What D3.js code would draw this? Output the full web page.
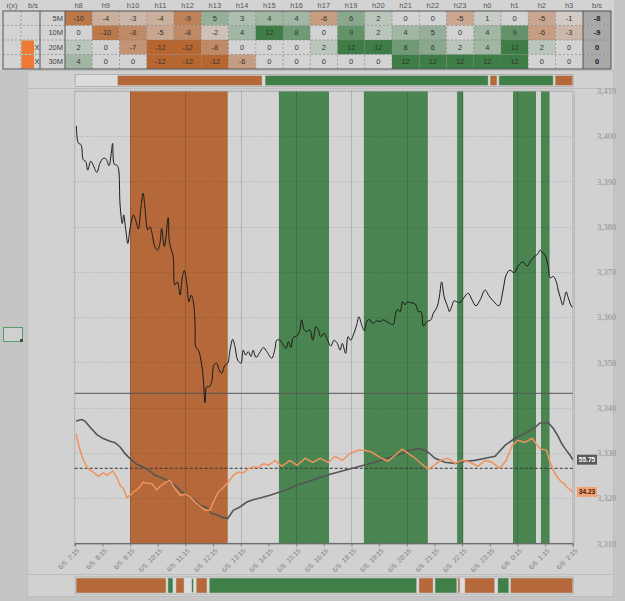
<!DOCTYPE html>
<html><head><meta charset="utf-8">
<script src="https://cdn.jsdelivr.net/npm/d3@7"></script>
<style>body{margin:0;background:#c5c5c5;} svg{display:block;font-family:"Liberation Sans",Arial,sans-serif;}</style>
</head><body><svg id="c" width="625" height="601"></svg>
<script>
// ---------- DATA ----------
const hours = ["h8","h9","h10","h11","h12","h13","h14","h15","h16","h17","h19","h20","h21","h22","h23","h0","h1","h2","h3"];
const rowLabels = ["5M","10M","20M","30M"];
const row5M  = [-10,-4,-3,-4,-9,5,3,4,4,-6,6,2,0,0,-5,1,0,-5,-1];
const row10M = [0,-10,-8,-5,-8,-2,4,12,8,0,9,2,4,5,0,4,9,-6,-3];
const row20M = [2,0,-7,-12,-12,-8,0,0,0,2,12,12,8,6,2,4,12,2,0];
const row30M = [4,0,0,-12,-12,-12,-6,0,0,0,0,0,12,12,12,12,12,0,0];
const rowTotals = [-8,-9,0,0];
const rowFlags = ["","","X","X"];

const xTickLabels = ["6/5  7:15","6/5  8:15","6/5  9:15","6/5  10:15","6/5  11:15","6/5  12:15","6/5  13:15","6/5  14:15","6/5  15:15","6/5  16:15","6/5  18:15","6/5  19:15","6/5  20:15","6/5  21:15","6/5  22:15","6/5  23:15","6/6  0:15","6/6  1:15","6/6  2:15"];
const priceTicks = [3310,3320,3330,3340,3350,3360,3370,3380,3390,3400,3410];

// bands in trading-hour units from 7:15
const bandsOrange = [[2.0,5.53]];
const bandsGreen = [[7.38,9.19],[10.45,12.76],[13.82,14.04],[15.84,16.67],[16.85,17.16]];
const topStrip = [["o",1.55,6.77],["g",6.88,14.94],["o",15.01,15.26],["g",15.33,17.29],["o",17.36,18]];
const bottomStrip = [["o",0.05,3.30],["g",3.37,3.55],["o",3.66,3.95],["g",4.23,4.29],["o",4.39,4.78],["g",4.86,12.36],["o",12.44,12.95],["g",13.02,13.81],["o",13.85,13.92],["o",14.10,15.18],["g",15.29,15.69],["o",15.75,18]];

const priceSeries = [[0.06,3402.3],[0.13,3398.5],[0.23,3398.1],[0.31,3394.8],[0.40,3394.4],[0.47,3392.5],[0.58,3394.5],[0.67,3393.6],[0.80,3392.0],[0.91,3394.0],[1.03,3395.1],[1.13,3395.0],[1.24,3393.5],[1.32,3396.2],[1.37,3398.4],[1.43,3393.8],[1.52,3393.6],[1.58,3392.9],[1.64,3384.8],[1.72,3380.7],[1.77,3382.6],[1.84,3379.6],[1.92,3376.3],[2.00,3379.6],[2.12,3382.6],[2.20,3381.5],[2.30,3379.5],[2.39,3384.1],[2.47,3387.4],[2.54,3384.1],[2.64,3379.3],[2.72,3380.0],[2.82,3377.8],[2.87,3376.0],[2.99,3374.8],[3.08,3376.3],[3.14,3379.6],[3.24,3375.6],[3.38,3382.0],[3.42,3376.7],[3.51,3374.5],[3.56,3373.4],[3.62,3367.1],[3.71,3367.8],[3.81,3364.9],[3.89,3368.9],[3.96,3370.3],[4.05,3367.5],[4.13,3363.4],[4.21,3364.9],[4.29,3363.4],[4.35,3358.3],[4.38,3353.3],[4.47,3352.7],[4.59,3349.4],[4.65,3346.1],[4.71,3341.1],[4.77,3344.6],[4.86,3344.6],[4.95,3345.7],[5.03,3349.4],[5.13,3349.8],[5.22,3348.3],[5.31,3347.6],[5.43,3349.4],[5.53,3349.8],[5.61,3352.7],[5.71,3355.1],[5.79,3353.5],[5.89,3350.5],[6.01,3349.8],[6.09,3352.7],[6.18,3351.6],[6.27,3352.4],[6.37,3351.3],[6.45,3352.7],[6.55,3351.1],[6.67,3352.0],[6.82,3353.3],[6.94,3352.4],[7.12,3350.9],[7.24,3353.1],[7.30,3354.9],[7.42,3354.9],[7.54,3353.8],[7.64,3353.1],[7.72,3354.6],[7.81,3353.3],[7.90,3355.5],[8.02,3355.8],[8.12,3356.8],[8.20,3359.4],[8.29,3357.2],[8.38,3356.8],[8.50,3357.2],[8.60,3354.9],[8.72,3357.9],[8.80,3357.2],[8.89,3355.7],[9.01,3356.4],[9.11,3355.3],[9.26,3353.6],[9.37,3354.9],[9.49,3354.2],[9.59,3352.7],[9.67,3354.2],[9.79,3352.0],[9.88,3355.7],[9.97,3354.9],[10.07,3356.1],[10.19,3358.3],[10.27,3360.1],[10.37,3358.3],[10.47,3357.0],[10.55,3359.0],[10.65,3359.5],[10.77,3358.6],[10.91,3359.2],[11.03,3359.0],[11.15,3359.4],[11.28,3359.0],[11.42,3358.5],[11.51,3358.3],[11.60,3360.9],[11.67,3361.7],[11.76,3361.2],[11.85,3363.4],[11.94,3362.7],[12.02,3363.4],[12.12,3363.2],[12.24,3363.1],[12.33,3362.7],[12.42,3361.2],[12.52,3361.2],[12.60,3358.0],[12.72,3359.0],[12.87,3359.4],[12.96,3360.9],[13.08,3362.0],[13.17,3364.2],[13.26,3367.8],[13.35,3364.5],[13.42,3363.2],[13.48,3362.3],[13.54,3361.2],[13.62,3362.3],[13.71,3363.6],[13.81,3363.4],[13.92,3363.2],[14.11,3364.7],[14.22,3365.3],[14.36,3363.8],[14.50,3362.5],[14.65,3363.8],[14.83,3366.0],[14.97,3364.7],[15.15,3363.4],[15.33,3362.5],[15.48,3366.0],[15.59,3369.3],[15.73,3370.4],[15.88,3369.8],[16.02,3371.3],[16.20,3372.2],[16.35,3371.3],[16.49,3372.6],[16.64,3373.5],[16.74,3374.0],[16.81,3374.8],[16.92,3374.2],[17.00,3373.7],[17.12,3370.9],[17.18,3368.7],[17.30,3369.0],[17.42,3367.5],[17.47,3366.0],[17.54,3364.5],[17.64,3362.7],[17.70,3364.2],[17.76,3365.6],[17.84,3364.2],[17.96,3362.3],[18.0,3362.2]];

const graySeries = [[0.05,81.5],[0.25,82.5],[0.37,81.5],[0.55,77.5],[0.80,72.5],[1.03,69.8],[1.28,68.0],[1.46,67.1],[1.64,64.2],[1.82,59.8],[2.00,56.5],[2.24,52.7],[2.48,50.9],[2.72,48.2],[2.90,45.3],[3.08,44.2],[3.26,42.7],[3.44,40.9],[3.62,38.7],[3.81,35.3],[3.99,32.5],[4.17,30.9],[4.35,28.7],[4.53,25.3],[4.77,23.8],[4.95,19.8],[5.13,19.1],[5.37,17.1],[5.53,16.5],[5.73,22.0],[5.97,24.2],[6.22,27.5],[6.45,29.1],[6.76,30.5],[7.06,32.0],[7.60,35.3],[8.14,39.3],[8.69,42.7],[9.23,46.0],[9.77,48.7],[10.31,51.3],[10.85,54.0],[11.40,57.3],[11.76,59.3],[12.12,62.0],[12.48,63.3],[12.77,60.7],[13.02,56.7],[13.38,54.0],[13.74,53.3],[14.11,54.7],[14.47,55.3],[14.83,56.7],[15.19,58.0],[15.55,65.3],[15.91,70.0],[16.27,73.3],[16.64,77.3],[16.81,80.2],[17.12,80.2],[17.30,76.5],[17.48,70.9],[17.60,66.5],[17.72,63.1],[17.90,58.7],[18.0,55.75]];

const orangeSeries = [[0.05,73.1],[0.13,66.5],[0.25,58.7],[0.37,53.1],[0.49,49.8],[0.67,47.5],[0.85,44.7],[1.03,46.9],[1.18,45.3],[1.37,48.2],[1.52,44.2],[1.64,38.7],[1.76,36.5],[1.88,30.5],[2.00,32.0],[2.12,34.2],[2.30,36.5],[2.48,40.9],[2.62,39.8],[2.78,39.8],[2.96,35.8],[3.14,38.7],[3.32,40.9],[3.44,42.0],[3.62,36.5],[3.81,32.0],[3.99,32.7],[4.17,30.9],[4.35,27.5],[4.53,24.7],[4.71,22.0],[4.89,22.0],[5.01,27.5],[5.19,34.2],[5.37,37.1],[5.55,40.9],[5.73,45.3],[5.91,47.5],[6.09,46.9],[6.27,49.8],[6.45,50.9],[6.64,50.5],[6.82,53.1],[7.00,52.0],[7.24,55.3],[7.49,51.3],[7.78,55.3],[8.04,52.0],[8.33,56.7],[8.61,54.0],[8.87,56.7],[9.16,54.0],[9.41,58.0],[9.67,55.3],[9.95,60.0],[10.24,62.0],[10.49,62.0],[10.74,60.7],[11.03,57.3],[11.32,54.7],[11.58,58.7],[11.83,62.7],[12.05,60.0],[12.30,56.7],[12.55,52.7],[12.77,49.3],[12.99,52.0],[13.20,55.3],[13.49,56.7],[13.74,53.3],[14.00,55.3],[14.29,54.0],[14.57,51.3],[14.83,55.3],[15.08,54.0],[15.37,50.0],[15.59,55.3],[15.81,65.3],[16.02,68.7],[16.27,67.3],[16.53,70.0],[16.81,63.1],[17.05,62.0],[17.15,55.3],[17.27,49.8],[17.36,46.5],[17.48,43.1],[17.60,40.9],[17.72,39.3],[17.78,37.5],[17.90,35.8],[18.0,34.23]];

// ---------- DRAW ----------
const svg = d3.select("#c");
const ORANGE = "#b5693a", GREEN = "#4a8450", SORANGE = "#b5683a", SGREEN = "#417f49";

svg.append("rect").attr("width",625).attr("height",601).attr("fill","#c5c5c5");
svg.append("rect").attr("x",0).attr("y",0).attr("width",614).attr("height",70).attr("fill","#d3d3d3");

// ----- table -----
const colX = d3.scaleBand().domain(hours).range([65, 65 + 19*27.25]);
const rowY = d3.scaleBand().domain(rowLabels).range([11, 69]);
const tableRows = [row5M,row10M,row20M,row30M];
const cellColor = v => v === 0 ? "#d3d3d3" :
  d3.interpolateRgb("#d3d3d3", v < 0 ? "#b8662f" : "#3f7d47")(Math.min(1, Math.abs(v)/12));
const tbl = svg.append("g");
tableRows.forEach((row, ri) => {
  const y0 = rowY(rowLabels[ri]), h = rowY.bandwidth();
  row.forEach((v, ci) => {
    tbl.append("rect").attr("x", colX(hours[ci])).attr("y", y0).attr("width", colX.bandwidth()).attr("height", h).attr("fill", cellColor(v));
    tbl.append("text").attr("x", colX(hours[ci]) + colX.bandwidth()/2).attr("y", y0 + h/2 + 2.6)
      .attr("text-anchor","middle").attr("font-size",7.5).attr("fill","#333").text(v);
  });
  tbl.append("rect").attr("x", 583).attr("y", y0).attr("width", 28).attr("height", h).attr("fill", "#a9a9a9");
  tbl.append("text").attr("x", 597).attr("y", y0 + h/2 + 2.6).attr("text-anchor","middle").attr("font-size",7.5)
    .attr("font-weight","bold").attr("fill","#222").text(rowTotals[ri]);
  tbl.append("text").attr("x", 63).attr("y", y0 + h/2 + 2.6).attr("text-anchor","end").attr("font-size",7.5).attr("fill","#444").text(rowLabels[ri]);
  if (rowFlags[ri]) {
    tbl.append("rect").attr("x", 21.5).attr("y", y0+0.5).attr("width", 12.5).attr("height", h-1).attr("fill", "#ef7a35");
    tbl.append("text").attr("x", 37).attr("y", y0 + h/2 + 2.6).attr("text-anchor","middle").attr("font-size",7.5).attr("fill","#333").text(rowFlags[ri]);
  }
  if (ri > 0) tbl.append("line").attr("x1",3).attr("x2",611).attr("y1",y0).attr("y2",y0).attr("stroke","#7a7a7a").attr("stroke-width",0.6).attr("stroke-dasharray","2,2");
});
hours.forEach((hh, ci) => {
  if (ci > 0) tbl.append("line").attr("x1",colX(hh)).attr("x2",colX(hh)).attr("y1",11).attr("y2",69).attr("stroke","#7a7a7a").attr("stroke-width",0.6).attr("stroke-dasharray","2,2");
  tbl.append("text").attr("x", colX(hh)+colX.bandwidth()/2).attr("y", 8).attr("text-anchor","middle").attr("font-size",7.5).attr("fill","#555").text(hh);
});
[21].forEach(xx => tbl.append("line").attr("x1",xx).attr("x2",xx).attr("y1",11).attr("y2",69).attr("stroke","#7a7a7a").attr("stroke-width",0.6).attr("stroke-dasharray","2,2"));
[40,65,583].forEach(xx => tbl.append("line").attr("x1",xx).attr("x2",xx).attr("y1",11).attr("y2",69).attr("stroke","#555").attr("stroke-width",1));
tbl.append("rect").attr("x",3).attr("y",11).attr("width",608).attr("height",58).attr("fill","none").attr("stroke","#555").attr("stroke-width",1);
tbl.append("text").attr("x",12).attr("y",8).attr("text-anchor","middle").attr("font-size",7.5).attr("fill","#555").text("r(x)");
tbl.append("text").attr("x",33).attr("y",8).attr("text-anchor","middle").attr("font-size",7.5).attr("fill","#555").text("b/s");
tbl.append("text").attr("x",597).attr("y",8).attr("text-anchor","middle").attr("font-size",7.5).attr("fill","#555").text("b/s");

// ----- panel -----
svg.append("rect").attr("x",27.5).attr("y",70.5).attr("width",586).attr("height",526).attr("fill","#d1d1d1").attr("stroke","#bdbdbd");
svg.append("line").attr("x1",27).attr("x2",614).attr("y1",88.5).attr("y2",88.5).attr("stroke","#bdbdbd");
svg.append("line").attr("x1",27).attr("x2",614).attr("y1",574.5).attr("y2",574.5).attr("stroke","#bdbdbd");

// left widget
svg.append("rect").attr("x",3.5).attr("y",327.5).attr("width",19).attr("height",14).attr("fill","#d0d0d0").attr("stroke","#5f9a6a");
svg.append("rect").attr("x",20).attr("y",339).attr("width",3).attr("height",3).attr("fill","#2d5a35");

const x = d3.scaleLinear().domain([0,18]).range([74.7,572.8]);
const yP = d3.scaleLinear().domain([3310,3410]).range([543.3,91]);
const yO = d3.scaleLinear().domain([0,100]).range([543.3,393.3]);

function strip(data, y0, h) {
  svg.append("rect").attr("x",x(0)+0.5).attr("y",y0-1).attr("width",x(18)-x(0)).attr("height",h+2).attr("fill","#dcdcdc").attr("stroke","#aaa").attr("stroke-width",0.8);
  svg.append("g").selectAll("rect").data(data).join("rect")
    .attr("x", d => x(d[1])).attr("width", d => x(d[2]) - x(d[1])).attr("y", y0).attr("height", h)
    .attr("fill", d => d[0] === "o" ? SORANGE : SGREEN).attr("stroke","#c9c9c9").attr("stroke-width",0.5);
}
strip(topStrip, 75.5, 10);
strip(bottomStrip, 578, 15);

svg.append("rect").attr("x",x(0)).attr("y",91).attr("width",x(18)-x(0)).attr("height",543.3-91).attr("fill","#d3d3d3").attr("stroke","#b3b3b3");
const bandG = svg.append("g");
bandG.selectAll(".bo").data(bandsOrange).join("rect").attr("x",d=>x(d[0])).attr("width",d=>x(d[1])-x(d[0])).attr("y",91.5).attr("height",543.3-91.5).attr("fill",ORANGE);
bandG.selectAll(".bg").data(bandsGreen).join("rect").attr("x",d=>x(d[0])).attr("width",d=>x(d[1])-x(d[0])).attr("y",91.5).attr("height",543.3-91.5).attr("fill",GREEN);

svg.append("g").selectAll("line").data(priceTicks).join("line")
  .attr("x1",x(0)).attr("x2",x(18)).attr("y1",d=>Math.round(yP(d))+0.5).attr("y2",d=>Math.round(yP(d))+0.5)
  .attr("stroke","rgba(0,0,0,0.12)").attr("stroke-dasharray","1.5,1.5");
svg.append("g").selectAll("line").data(d3.range(2,18,2)).join("line")
  .attr("x1",d=>Math.round(x(d))+0.5).attr("x2",d=>Math.round(x(d))+0.5).attr("y1",91).attr("y2",543.3)
  .attr("stroke","rgba(0,0,0,0.15)");
svg.append("line").attr("x1",x(18)+1.5).attr("x2",x(18)+1.5).attr("y1",91).attr("y2",543.3).attr("stroke","#b3b3b3");

svg.append("line").attr("x1",x(0)).attr("x2",x(18)).attr("y1",yO(100)).attr("y2",yO(100)).attr("stroke","#555").attr("stroke-width",1);
svg.append("line").attr("x1",x(0)).attr("x2",x(18)).attr("y1",yO(50)).attr("y2",yO(50)).attr("stroke","#333").attr("stroke-width",1).attr("stroke-dasharray","3,2");

svg.append("path").datum(graySeries).attr("fill","none").attr("stroke","#555").attr("stroke-width",1.6)
  .attr("d", d3.line().x(d=>x(d[0])).y(d=>yO(d[1])));
svg.append("path").datum(orangeSeries).attr("fill","none").attr("stroke","#f0925c").attr("stroke-width",1.5)
  .attr("d", d3.line().x(d=>x(d[0])).y(d=>yO(d[1])));
svg.append("path").datum(priceSeries).attr("fill","none").attr("stroke","#1a1a1a").attr("stroke-width",1)
  .attr("d", d3.line().curve(d3.curveCatmullRom.alpha(0.5)).x(d=>x(d[0])).y(d=>yP(d[1])));

const xa = svg.append("g").attr("transform","translate(0,543.3)")
  .call(d3.axisBottom(x).tickValues(d3.range(19)).tickFormat(i => xTickLabels[i]).tickSize(3));
xa.select(".domain").attr("stroke","#555");
xa.selectAll(".tick line").attr("stroke","#777");
xa.selectAll(".tick text").attr("transform","rotate(-45)").attr("text-anchor","end")
  .attr("x",-2.4).attr("y",6.5).attr("dy","0.35em").attr("font-size",6.8).attr("fill","#808080")
  .attr("font-family","'Liberation Sans',Arial,sans-serif").style("white-space","pre");

const ya = svg.append("g").attr("transform","translate(594,0)")
  .call(d3.axisRight(yP).tickValues(priceTicks).tickSize(0).tickFormat(d3.format(",")));
ya.select(".domain").remove();
ya.selectAll(".tick text").attr("x",3).attr("font-size",8.5).attr("fill","#8f8f8f").attr("font-family","'Liberation Serif',serif");

const lastG = graySeries[graySeries.length-1][1], lastO = orangeSeries[orangeSeries.length-1][1];
[[lastG,"#5a5a5a","#fff"],[lastO,"#f4a070","#3a2010"]].forEach(([v,bg,fg]) => {
  svg.append("rect").attr("x",577).attr("y",yO(v)-5).attr("width",20).attr("height",10).attr("fill",bg);
  svg.append("text").attr("x",587).attr("y",yO(v)+2.5).attr("text-anchor","middle").attr("font-size",6.5).attr("font-weight","bold").attr("fill",fg).text(v.toFixed(2));
});
</script></body></html>
